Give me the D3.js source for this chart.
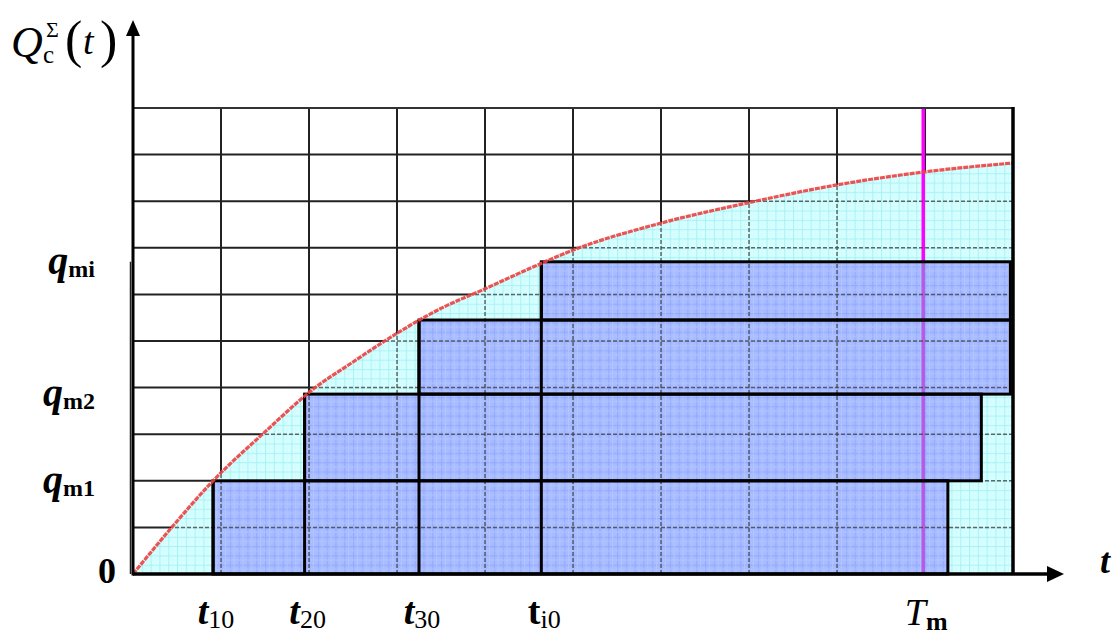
<!DOCTYPE html>
<html>
<head>
<meta charset="utf-8">
<script src="https://cdn.jsdelivr.net/npm/d3@7"></script>
<style>
  html, body { margin: 0; padding: 0; background: #fff; }
  svg { display: block; font-family: "Liberation Serif", "Times New Roman", serif; }
</style>
</head>
<body>
<svg id="chart" width="1114" height="637"></svg>
<script>
// ---- data (grid units) ----
const curveT = [0, 0.44, 0.91, 1.5, 2.07, 2.5, 2.86, 3.5, 4, 4.5, 5, 6, 7, 8, 9, 10];
const curveQ = [0, 1.0, 2.0, 3.05, 4.0, 4.55, 5.0, 5.7, 6.12, 6.55, 6.95, 7.53, 7.97, 8.35, 8.63, 8.82];
const startT = [0.91, 1.95, 3.25, 4.64];
const endT   = [9.26, 9.64, 9.97, 9.97];
const levelQ = [0, 2.0, 3.86, 5.45, 6.70];
const tmT = 8.98;
const gridTicks = d3.range(0, 11);
const xLabelMain = ["t", "t", "t", "t", "T"];
const xLabelSub  = ["10", "20", "30", "i0", "m"];
const xLabelPos  = [0.91, 1.95, 3.25, 4.64, 8.98];
const yLabelMain = ["q", "q", "q"];
const yLabelSub  = ["m1", "m2", "mi"];
const yLabelPos  = [2.0, 3.86, 6.70];

const svg = d3.select("#chart");
const x = d3.scaleLinear().domain([0, 10]).range([133, 1013]);
const y = d3.scaleLinear().domain([0, 10]).range([574, 108]);

// patterns
const defs = svg.append("defs");
const cw = (x(1) - x(0)) / 10, ch = (y(0) - y(1)) / 5;
function makePattern(id, bg, line, fine) {
  const p = defs.append("pattern").attr("id", id).attr("patternUnits", "userSpaceOnUse")
    .attr("x", x(0)).attr("y", y(0)).attr("width", cw).attr("height", ch);
  p.append("rect").attr("width", cw).attr("height", ch).attr("fill", bg);
  p.append("line").attr("x1", 0.5).attr("x2", 0.5).attr("y1", 0).attr("y2", ch).attr("stroke", line).attr("stroke-width", 1.2);
  p.append("line").attr("x1", 0).attr("x2", cw).attr("y1", 0.5).attr("y2", 0.5).attr("stroke", line).attr("stroke-width", 1.2);
  p.append("line").attr("x1", cw / 2).attr("x2", cw / 2).attr("y1", 0).attr("y2", ch).attr("stroke", fine).attr("stroke-width", 0.8).attr("stroke-dasharray", "1,1");
  p.append("line").attr("x1", 0).attr("x2", cw).attr("y1", ch / 2).attr("y2", ch / 2).attr("stroke", fine).attr("stroke-width", 0.8).attr("stroke-dasharray", "1,1");
}
makePattern("cyanPat", "#d8ffff", "#a8f2f6", "#c0f8fb");
makePattern("bluePat", "#a8bcff", "#93aaff", "#bfcdff");

// solid grid
const grid = svg.append("g");
grid.selectAll("line.v").data(gridTicks.slice(1, 10)).join("line")
  .attr("x1", d => x(d)).attr("x2", d => x(d)).attr("y1", y(10)).attr("y2", y(0))
  .attr("stroke", "#222").attr("stroke-width", 2);
grid.selectAll("line.h").data(gridTicks.slice(1)).join("line")
  .attr("x1", x(0)).attr("x2", x(10)).attr("y1", d => y(d)).attr("y2", d => y(d))
  .attr("stroke", "#222").attr("stroke-width", 2);

// area under the curve
const pts = curveT.map((t, i) => [t, curveQ[i]]);
const area = d3.area().x(d => x(d[0])).y0(y(0)).y1(d => y(d[1])).curve(d3.curveMonotoneX);
svg.append("path").datum(pts).attr("d", area).attr("fill", "url(#cyanPat)");

// blue rectangles (fills)
const layers = startT.map((s, i) => ({ s, e: endT[i], q0: levelQ[i], q1: levelQ[i + 1] }));
svg.append("g").selectAll("rect").data(layers).join("rect")
  .attr("x", d => x(d.s)).attr("y", d => y(d.q1))
  .attr("width", d => x(d.e) - x(d.s)).attr("height", d => y(d.q0) - y(d.q1))
  .attr("fill", "url(#bluePat)");

// magenta line T_m (bright above the blocks, purple where seen through the blocks)
svg.append("line").attr("x1", x(tmT)).attr("x2", x(tmT)).attr("y1", y(10)).attr("y2", y(levelQ[4]))
  .attr("stroke", "#ff00ff").attr("stroke-width", 3.5);
svg.append("line").attr("x1", x(tmT)).attr("x2", x(tmT)).attr("y1", y(levelQ[4])).attr("y2", y(0))
  .attr("stroke", "#b85ae8").attr("stroke-width", 3.5);

// dashed grid over filled areas (clipped)
const clip = defs.append("clipPath").attr("id", "fillClip");
clip.append("path").datum(pts).attr("d", area);
const dg = svg.append("g").attr("clip-path", "url(#fillClip)");
dg.selectAll("line.v").data(gridTicks.slice(1, 10).filter(d => Math.abs(d - tmT) > 0.1)).join("line")
  .attr("x1", d => x(d)).attr("x2", d => x(d)).attr("y1", y(10)).attr("y2", y(0))
  .attr("stroke", "#444").attr("stroke-width", 1.5).attr("stroke-dasharray", "4,2").attr("opacity", 0.8);
dg.selectAll("line.h").data(gridTicks.slice(1)).join("line")
  .attr("x1", x(0)).attr("x2", x(10)).attr("y1", d => y(d)).attr("y2", d => y(d))
  .attr("stroke", "#444").attr("stroke-width", 1.5).attr("stroke-dasharray", "4,2").attr("opacity", 0.8);

// rectangle borders and vertical separators
const rb = svg.append("g");
rb.selectAll("rect").data(layers).join("rect")
  .attr("x", d => x(d.s)).attr("y", d => y(d.q1))
  .attr("width", d => x(d.e) - x(d.s)).attr("height", d => y(d.q0) - y(d.q1))
  .attr("fill", "none").attr("stroke", "#000").attr("stroke-width", 3);
rb.selectAll("line").data(layers).join("line")
  .attr("x1", d => x(d.s)).attr("x2", d => x(d.s)).attr("y1", d => y(d.q1)).attr("y2", y(0))
  .attr("stroke", "#000").attr("stroke-width", 3);

// red curve
const line = d3.line().x(d => x(d[0])).y(d => y(d[1])).curve(d3.curveMonotoneX);
svg.append("path").datum(pts).attr("d", line).attr("fill", "none")
  .attr("stroke", "#ec4040").attr("stroke-width", 3.2).attr("stroke-dasharray", "5,1").attr("opacity", 0.9);

// frame: top and right border
svg.append("line").attr("x1", x(0)).attr("x2", x(10)).attr("y1", y(10)).attr("y2", y(10))
  .attr("stroke", "#333").attr("stroke-width", 2);
svg.append("line").attr("x1", x(10)).attr("x2", x(10)).attr("y1", y(10) - 1).attr("y2", y(0))
  .attr("stroke", "#000").attr("stroke-width", 3.5);

// axes
svg.append("line").attr("x1", x(0)).attr("x2", 1049).attr("y1", y(0)).attr("y2", y(0))
  .attr("stroke", "#000").attr("stroke-width", 3.5);
svg.append("path").attr("d", `M1064,${y(0)} L1047,${y(0) - 8} L1047,${y(0) + 8} Z`).attr("fill", "#000");
svg.append("line").attr("x1", x(0)).attr("x2", x(0)).attr("y1", y(0) + 1.5).attr("y2", 34)
  .attr("stroke", "#000").attr("stroke-width", 3);
svg.append("line").attr("x1", x(0) - 2.5).attr("x2", x(0) - 2.5).attr("y1", y(levelQ[4])).attr("y2", y(0))
  .attr("stroke", "#222").attr("stroke-width", 1.5);
svg.append("path").attr("d", `M${x(0)},20 L${x(0) - 7},36 L${x(0) + 7},36 Z`).attr("fill", "#000");

// x-axis labels
const xl = svg.append("g");
xLabelMain.forEach((m, i) => {
  const isTi = xLabelSub[i] === "i0";
  const isT = m === "T";
  const t = xl.append("text").attr("x", x(xLabelPos[i]) + 3).attr("y", isT ? 625 : 624).attr("text-anchor", "middle");
  t.append("tspan").text(m)
    .attr("font-size", 38)
    .attr("font-weight", isT ? "normal" : "bold")
    .attr("font-style", isTi ? "normal" : "italic");
  t.append("tspan").text(xLabelSub[i]).attr("font-size", 26).attr("dy", isT ? 5 : 4)
    .attr("font-weight", isT ? "bold" : "normal").attr("font-style", "normal");
});

// y-axis labels
const yl = svg.append("g");
yLabelMain.forEach((m, i) => {
  const t = yl.append("text").attr("x", 95).attr("y", y(yLabelPos[i]) + 12).attr("text-anchor", "end");
  t.append("tspan").text(m).attr("font-size", 40).attr("font-weight", "bold").attr("font-style", "italic");
  t.append("tspan").text(yLabelSub[i]).attr("font-size", 24).attr("font-weight", "bold").attr("dy", 3);
});
svg.append("text").attr("x", 107).attr("y", 583).attr("text-anchor", "middle")
  .attr("font-size", 36).attr("font-weight", "bold").text("0");

// right-side axis label "t"
svg.append("text").attr("x", 1105).attr("y", 573).attr("text-anchor", "middle")
  .attr("font-size", 36).attr("font-weight", "bold").attr("font-style", "italic").text("t");

// y-axis title Q_c^Σ(t)
const title = svg.append("g");
title.append("text").attr("x", 11).attr("y", 57).attr("font-size", 44).attr("font-style", "italic").text("Q");
title.append("text").attr("x", 46).attr("y", 37).attr("font-size", 22).text("Σ");
title.append("text").attr("x", 43).attr("y", 63).attr("font-size", 25).text("c");
title.append("text").attr("x", 65).attr("y", 57).attr("font-size", 52).text("(");
title.append("text").attr("x", 83).attr("y", 54).attr("font-size", 38).attr("font-style", "italic").text("t");
title.append("text").attr("x", 100).attr("y", 57).attr("font-size", 52).text(")");
</script>
</body>
</html>
